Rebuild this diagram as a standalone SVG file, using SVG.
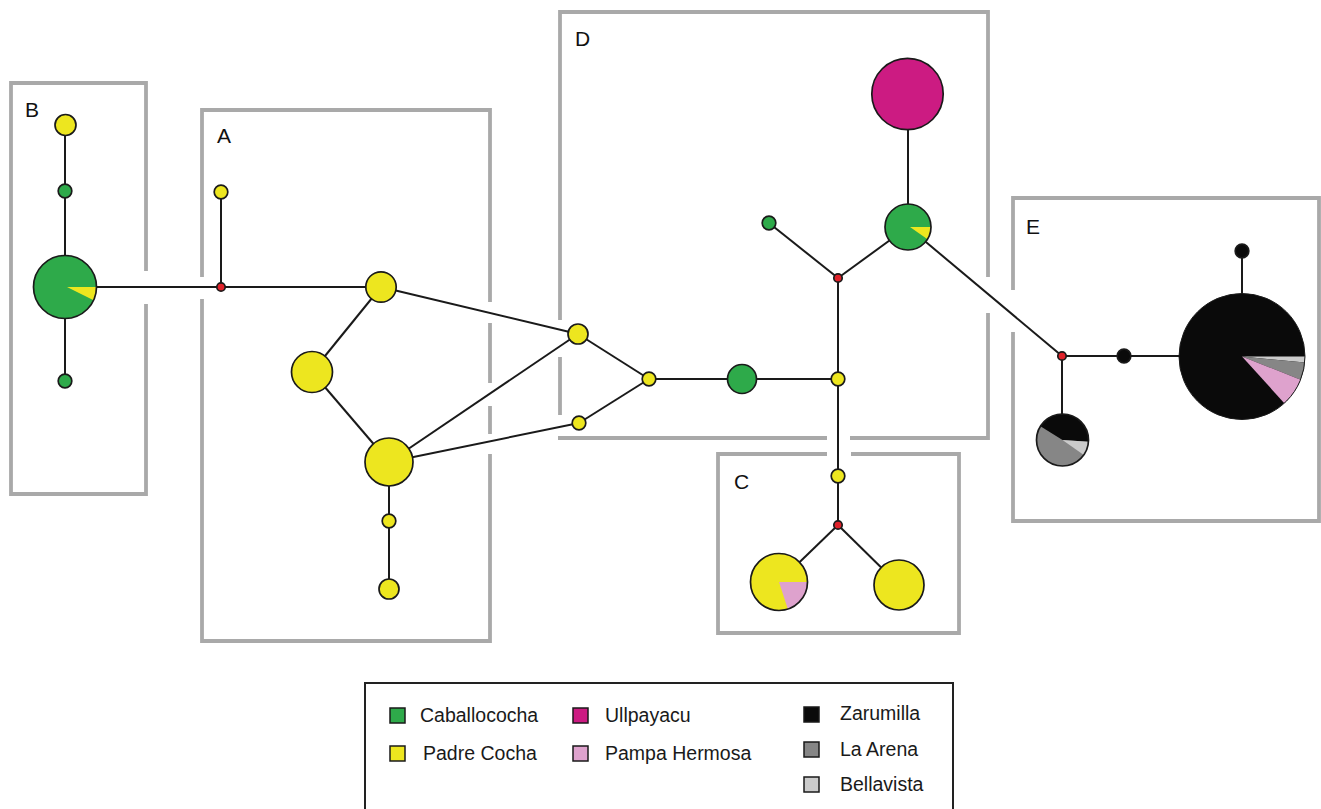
<svg xmlns="http://www.w3.org/2000/svg" width="1321" height="809" viewBox="0 0 1321 809">
<style>
.box{fill:none;stroke:#a9a9a9;stroke-width:3.8}
.lbl{font-family:"Liberation Sans",Arial,sans-serif;font-size:21px;fill:#111}
.edge{stroke:#1a1a1a;stroke-width:2;fill:none}
.n{stroke:#1a1a1a;stroke-width:1.7}
.g{fill:#2eaa4a}.y{fill:#ede61f}.m{fill:#cc1b82}.p{fill:#dea2cd}.r{fill:#e0222a}.k{fill:#0a0a0a}.d{fill:#868686}.l{fill:#cbcbcb}
.leg{font-family:"Liberation Sans",Arial,sans-serif;font-size:19.5px;fill:#1a1a1a}
.sw{stroke:#1a1a1a;stroke-width:1.5}
</style>
<rect width="1321" height="809" fill="#ffffff"/>
<g id="boxes">
<path class="box" d="M146,271 V83 H11 V494 H146 V304"/>
<path class="box" d="M202,277 V110 H490 V302 M490,323 V383 M490,406 V434 M490,454 V641 H202 V299"/>
<path class="box" d="M560,320 V12 H988 V277 M988,313 V438 H850 M827,438 H558 M560,415 V357"/>
<path class="box" d="M827,454 H718 V633 H959 V454 H851"/>
<path class="box" d="M1013,290 V198 H1319 V521 H1013 V332"/>
<text class="lbl" x="25" y="117">B</text>
<text class="lbl" x="217" y="143">A</text>
<text class="lbl" x="575" y="46">D</text>
<text class="lbl" x="734" y="489">C</text>
<text class="lbl" x="1026" y="234">E</text>
</g>
<g id="connectors">
<line class="edge" x1="65" y1="125" x2="65" y2="381"/>
<line class="edge" x1="65" y1="287" x2="381" y2="287"/>
<line class="edge" x1="221" y1="287" x2="221" y2="192"/>
<line class="edge" x1="381" y1="287" x2="312" y2="372"/>
<line class="edge" x1="312" y1="372" x2="389" y2="462"/>
<line class="edge" x1="381" y1="287" x2="578" y2="334"/>
<line class="edge" x1="389" y1="462" x2="578" y2="334"/>
<line class="edge" x1="389" y1="462" x2="579" y2="423"/>
<line class="edge" x1="389" y1="462" x2="389" y2="589"/>
<line class="edge" x1="578" y1="334" x2="649" y2="379"/>
<line class="edge" x1="579" y1="423" x2="649" y2="379"/>
<line class="edge" x1="649" y1="379" x2="838" y2="379"/>
<line class="edge" x1="838" y1="278" x2="838" y2="525"/>
<line class="edge" x1="838" y1="278" x2="769" y2="223"/>
<line class="edge" x1="838" y1="278" x2="908" y2="227"/>
<line class="edge" x1="908" y1="94" x2="908" y2="227"/>
<line class="edge" x1="908" y1="227" x2="1062" y2="356"/>
<line class="edge" x1="1062" y1="356" x2="1242" y2="356"/>
<line class="edge" x1="1242" y1="251" x2="1242" y2="356"/>
<line class="edge" x1="1062" y1="356" x2="1062" y2="440"/>
<line class="edge" x1="838" y1="525" x2="779" y2="582"/>
<line class="edge" x1="838" y1="525" x2="899" y2="585"/>
</g>
<g id="node-B-top"><circle class="n y" cx="65.5" cy="125" r="10.5"/></g>
<g id="node-B-mid"><circle class="n g" cx="65" cy="191" r="6.8"/></g>
<g id="node-B-pie">
<circle class="g" cx="65" cy="287" r="31.5"/>
<path class="y" d="M67,287 L96.5,287 A31.5,31.5 0 0,1 93.55,300.31 Z"/>
<circle class="n" fill="none" cx="65" cy="287" r="31.5"/>
</g>
<g id="node-B-bot"><circle class="n g" cx="65" cy="381" r="6.8"/></g>
<g id="node-A-red"><circle class="n r" cx="221" cy="287" r="4.2"/></g>
<g id="node-A-top"><circle class="n y" cx="221" cy="192" r="6.8"/></g>
<g id="node-A1"><circle class="n y" cx="381" cy="287" r="15.2"/></g>
<g id="node-A2"><circle class="n y" cx="312" cy="372" r="20.5"/></g>
<g id="node-A3"><circle class="n y" cx="389" cy="462" r="24"/></g>
<g id="node-A4"><circle class="n y" cx="389" cy="521" r="6.8"/></g>
<g id="node-A5"><circle class="n y" cx="389" cy="589" r="10"/></g>
<g id="node-D1"><circle class="n y" cx="578" cy="334" r="10"/></g>
<g id="node-D2"><circle class="n y" cx="579" cy="423" r="6.8"/></g>
<g id="node-D3"><circle class="n y" cx="649" cy="379" r="6.8"/></g>
<g id="node-D4"><circle class="n g" cx="742" cy="379" r="14.5"/></g>
<g id="node-D5"><circle class="n y" cx="838" cy="379" r="6.8"/></g>
<g id="node-D-red"><circle class="n r" cx="838" cy="278" r="4.2"/></g>
<g id="node-D6"><circle class="n g" cx="769" cy="223" r="6.8"/></g>
<g id="node-D-pie">
<circle class="g" cx="908" cy="227" r="23"/>
<path class="y" d="M910,227 L931,227 A23,23 0 0,1 927.5,239.19 Z"/>
<circle class="n" fill="none" cx="908" cy="227" r="23"/>
</g>
<g id="node-D-magenta"><circle class="n m" cx="907.5" cy="94" r="35.7"/></g>
<g id="node-C1"><circle class="n y" cx="838" cy="476" r="6.8"/></g>
<g id="node-C-red"><circle class="n r" cx="838" cy="525" r="4.2"/></g>
<g id="node-C-pie">
<circle class="y" cx="779" cy="582" r="28.5"/>
<path class="p" d="M779,582 L807.5,582 A28.5,28.5 0 0,1 787.8,609.1 Z"/>
<circle class="n" fill="none" cx="779" cy="582" r="28.5"/>
</g>
<g id="node-C2"><circle class="n y" cx="899" cy="585" r="25"/></g>
<g id="node-E-red"><circle class="n r" cx="1062" cy="356" r="4.2"/></g>
<g id="node-E1"><circle class="n k" cx="1124" cy="356" r="6.8"/></g>
<g id="node-E-top"><circle class="n k" cx="1242" cy="251" r="6.8"/></g>
<g id="node-E-bigpie">
<circle class="k" cx="1242" cy="356.5" r="63"/>
<path class="l" d="M1242,356.5 L1305,356.5 A63,63 0 0,1 1304.71,362.54 Z"/>
<path class="d" d="M1242,356.5 L1304.71,362.54 A63,63 0 0,1 1300.58,379.69 Z"/>
<path class="p" d="M1242,356.5 L1300.58,379.69 A63,63 0 0,1 1284.32,403.17 Z"/>
<circle fill="none" stroke="#1a1a1a" stroke-width="1" cx="1242" cy="356.5" r="63"/>
</g>
<g id="node-E-smallpie">
<circle class="d" cx="1062.5" cy="440" r="26"/>
<path class="k" d="M1062.5,440 L1040.45,426.22 A26,26 0 0,1 1088.44,441.81 Z"/>
<path class="l" d="M1062.5,440 L1088.44,441.81 A26,26 0 0,1 1083.8,454.91 Z"/>
<circle class="n" fill="none" cx="1062.5" cy="440" r="26"/>
</g>
<g id="legend">
<rect x="365" y="683" width="588" height="140" fill="#ffffff" stroke="#222" stroke-width="2"/>
<rect class="sw g" x="390" y="708" width="15" height="15"/>
<text class="leg" x="420" y="722">Caballococha</text>
<rect class="sw y" x="390" y="746" width="15" height="15"/>
<text class="leg" x="423" y="760">Padre Cocha</text>
<rect class="sw m" x="573" y="708" width="15" height="15"/>
<text class="leg" x="605" y="722">Ullpayacu</text>
<rect class="sw p" x="573" y="746" width="15" height="15"/>
<text class="leg" x="605" y="760">Pampa Hermosa</text>
<rect class="sw k" x="804" y="707" width="15" height="15"/>
<text class="leg" x="840" y="720">Zarumilla</text>
<rect class="sw d" x="804" y="742" width="15" height="15"/>
<text class="leg" x="840" y="756">La Arena</text>
<rect class="sw l" x="804" y="777" width="15" height="15"/>
<text class="leg" x="840" y="791">Bellavista</text>
</g>
</svg>
